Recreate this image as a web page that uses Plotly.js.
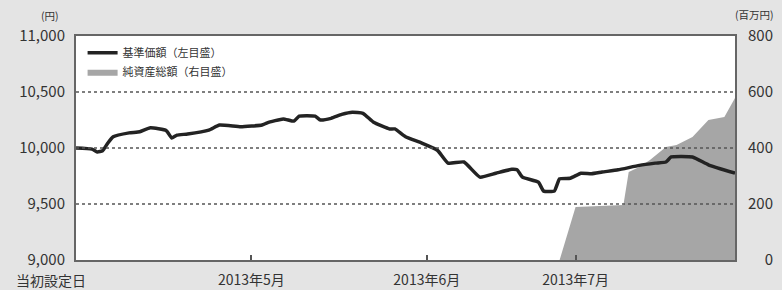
<!DOCTYPE html>
<html>
<head>
<meta charset="utf-8">
<script src="https://cdn.plot.ly/plotly-3.0.1.min.js"></script>
<style>html,body{margin:0;padding:0;background:#e4e4e4;}#chart{width:782px;height:290px;}</style>
</head>
<body>
<div id="chart"></div>
<script>
// 基準価額 (左目盛, 円)
const navDates = ['2013-03-29','2013-04-01','2013-04-02','2013-04-03','2013-04-04','2013-04-05','2013-04-08','2013-04-10','2013-04-12','2013-04-15','2013-04-16','2013-04-17','2013-04-19','2013-04-23','2013-04-25','2013-04-29',
 '2013-05-03','2013-05-04','2013-05-07','2013-05-09','2013-05-10','2013-05-13','2013-05-14','2013-05-16','2013-05-18','2013-05-20','2013-05-22','2013-05-24','2013-05-27','2013-05-28','2013-05-30',
 '2013-06-02','2013-06-05','2013-06-07','2013-06-10','2013-06-13','2013-06-16','2013-06-19','2013-06-20','2013-06-21','2013-06-24','2013-06-25','2013-06-27','2013-06-28','2013-06-30',
 '2013-07-02','2013-07-04','2013-07-06','2013-07-09','2013-07-13','2013-07-16','2013-07-18','2013-07-19','2013-07-23','2013-07-26','2013-07-31'];
const navValues = [10000,9990,9965,9975,10045,10100,10135,10145,10180,10155,10090,10115,10125,10160,10205,10190,
 10205,10225,10260,10240,10285,10285,10250,10265,10300,10320,10310,10230,10170,10170,10100,
 10045,9980,9865,9875,9740,9775,9810,9805,9740,9695,9615,9615,9725,9730,
 9775,9770,9785,9805,9845,9865,9875,9920,9920,9850,9775];
// 純資産総額 (右目盛, 百万円)
const aumDates = ['2013-06-28','2013-07-01','2013-07-10','2013-07-11','2013-07-13','2013-07-15','2013-07-18','2013-07-20','2013-07-23','2013-07-26','2013-07-29','2013-07-30','2013-07-31'];
const aumValues = [0,189,196,314,332,357,404,411,439,500,511,546,579];
// 目盛
const xTickVals = ['2013-05-01','2013-06-03','2013-07-01'];
const xTickText = ['2013年5月','2013年6月','2013年7月'];
const leftTicks = [9000,9500,10000,10500,11000];
const rightTicks = [0,200,400,600,800];
const rightTickText = ['\u2007\u20070','200','400','600','800'];

const FONT = '"Noto Sans CJK JP", "Noto Sans", sans-serif';
const traces = [
  {x: aumDates, y: aumValues, type: 'scatter', mode: 'lines', name: '純資産総額（右目盛）',
   fill: 'tozeroy', fillcolor: '#a6a6a6', line: {width: 0, color: '#a6a6a6'}, yaxis: 'y'},
  {x: navDates, y: navValues, type: 'scatter', mode: 'lines', name: '基準価額（左目盛）',
   line: {width: 3.5, color: '#232323', shape: 'spline', smoothing: 0.4}, yaxis: 'y2'}
];
const gridShapes = [9500,10000,10500].map(v => ({type: 'line', xref: 'paper', x0: 0, x1: 1, yref: 'y2', y0: v, y1: v,
  line: {color: '#555', width: 1.5, dash: 'dot'}, layer: 'above'}));
const layout = {
  width: 782, height: 290,
  margin: {l: 76, r: 47, t: 36, b: 30},
  paper_bgcolor: '#e4e4e4', plot_bgcolor: '#ffffff',
  font: {family: FONT, size: 14, color: '#333'},
  showlegend: true,
  legend: {x: 0.01, y: 0.99, xanchor: 'left', yanchor: 'top', bgcolor: 'rgba(0,0,0,0)',
    font: {size: 11, color: '#333'}, traceorder: 'reversed', tracegroupgap: 0, itemwidth: 30},
  xaxis: {type: 'date', range: ['2013-03-29','2013-07-31'], tickvals: xTickVals, ticktext: xTickText,
    ticks: 'inside', ticklen: 5, tickwidth: 2, tickcolor: '#555', showgrid: false, zeroline: false,
    showline: true, linecolor: '#666', linewidth: 2, mirror: true, ticklabelstandoff: 6,
    tickfont: {size: 14, color: '#333'}},
  yaxis: {side: 'right', range: [0, 800], tickvals: rightTicks, ticktext: rightTickText,
    showgrid: false, zeroline: false, showline: true, linecolor: '#666', linewidth: 2,
    ticks: '', ticklabelstandoff: 8, tickfont: {size: 15, color: '#333'}},
  yaxis2: {overlaying: 'y', side: 'left', range: [9000, 11000], tickvals: leftTicks, tickformat: ',d',
    showgrid: false, zeroline: false, showline: true, linecolor: '#666', linewidth: 2,
    ticks: '', ticklabelstandoff: 6, tickfont: {size: 15, color: '#333'}},
  shapes: gridShapes,
  annotations: [
    {text: '当初設定日', xref: 'paper', yref: 'paper', x: -0.038, y: 0, yshift: -20, xanchor: 'center', yanchor: 'middle',
     showarrow: false, font: {size: 14, color: '#333'}},
    {text: '(円)', xref: 'paper', yref: 'paper', x: -0.04, y: 1, yshift: 21, xanchor: 'center', yanchor: 'middle',
     showarrow: false, font: {size: 10.5, color: '#333'}},
    {text: '(百万円)', xref: 'paper', yref: 'paper', x: 1.03, y: 1, yshift: 22, xanchor: 'center', yanchor: 'middle',
     showarrow: false, font: {size: 10.5, color: '#333'}}
  ]
};
Plotly.newPlot('chart', traces, layout, {displayModeBar: false, staticPlot: true});
</script>
</body>
</html>
